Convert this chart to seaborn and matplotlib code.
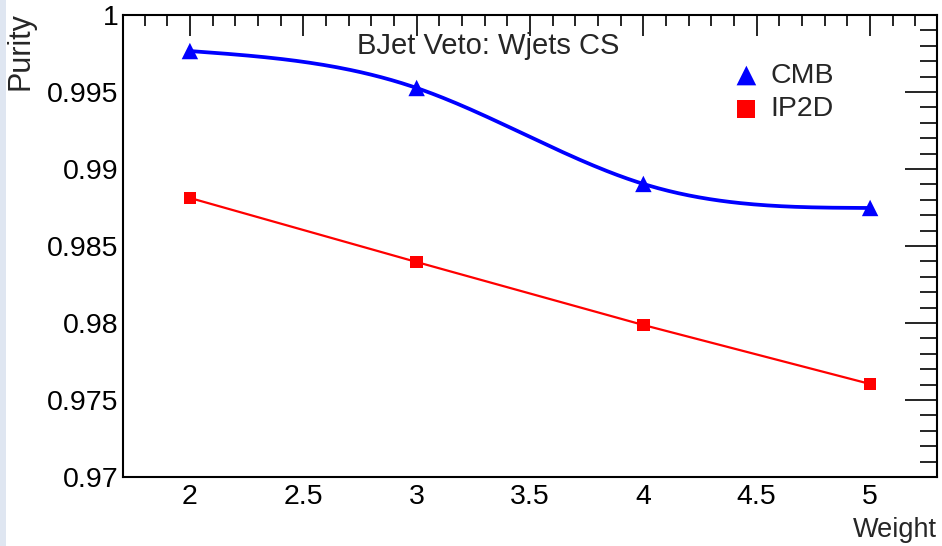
import numpy as np
import pandas as pd
import seaborn as sns
import matplotlib
matplotlib.use("Agg")
import matplotlib.pyplot as plt
from matplotlib.ticker import MultipleLocator
from matplotlib.patches import Rectangle

weights = [2, 3, 4, 5]
cmb = [0.99766, 0.99526, 0.98903, 0.98747]
ip2d = [0.98812, 0.98396, 0.97987, 0.97604]
xtick_vals = [2, 2.5, 3, 3.5, 4, 4.5, 5]
xtick_labels = ['2', '2.5', '3', '3.5', '4', '4.5', '5']
ytick_vals = [0.97, 0.975, 0.98, 0.985, 0.99, 0.995, 1.0]
ytick_labels = ['0.97', '0.975', '0.98', '0.985', '0.99', '0.995', '1']

sns.set_style("white")
plt.rcParams['font.family'] = ['Liberation Sans', 'DejaVu Sans']

W, H = 942, 546


def natural_spline(x, y, n=200):
    x = np.asarray(x, float); y = np.asarray(y, float)
    k = len(x)
    h = np.diff(x)
    A = np.zeros((k, k)); b = np.zeros(k)
    A[0, 0] = 1; A[-1, -1] = 1
    for i in range(1, k - 1):
        A[i, i - 1] = h[i - 1]; A[i, i] = 2 * (h[i - 1] + h[i]); A[i, i + 1] = h[i]
        b[i] = 3 * ((y[i + 1] - y[i]) / h[i] - (y[i] - y[i - 1]) / h[i - 1])
    c = np.linalg.solve(A, b)
    xs = np.linspace(x[0], x[-1], n)
    ys = np.empty_like(xs)
    for j, xv in enumerate(xs):
        i = min(np.searchsorted(x, xv, side='right') - 1, k - 2)
        dx = xv - x[i]
        bb = (y[i + 1] - y[i]) / h[i] - h[i] * (2 * c[i] + c[i + 1]) / 3
        d = (c[i + 1] - c[i]) / (3 * h[i])
        ys[j] = y[i] + bb * dx + c[i] * dx ** 2 + d * dx ** 3
    return xs, ys


fig = plt.figure(figsize=(W / 100, H / 100), dpi=100)
fig.patch.set_facecolor('white')
fig.add_artist(Rectangle((0, 0), 6 / W, 1, transform=fig.transFigure,
                         facecolor='#dfe6f1', edgecolor='none', zorder=0))
ax = fig.add_axes([123 / W, 1 - 477 / H, (937 - 123) / W, (477 - 15) / H])

sx, sy = natural_spline(weights, cmb)
df_s = pd.DataFrame({'w': sx, 'p': sy})
sns.lineplot(data=df_s, x='w', y='p', ax=ax, color='#0000ff', lw=2.7, sort=False)
sns.lineplot(x=weights, y=ip2d, ax=ax, color='#ff0000', lw=1.6)
sns.scatterplot(x=weights, y=cmb, ax=ax, marker='^', s=140, color='#0000ff',
                edgecolor='none', zorder=5, label='CMB')
sns.scatterplot(x=weights, y=ip2d, ax=ax, marker='s', s=80, color='#ff0000',
                edgecolor='none', zorder=5, label='IP2D')

ax.set_xlim(1.705, 5.295)
ax.set_ylim(0.97, 1.0)
ax.xaxis.set_minor_locator(MultipleLocator(0.1))
ax.yaxis.set_minor_locator(MultipleLocator(0.001))
ax.set_xticks(xtick_vals)
ax.set_xticklabels(xtick_labels)
ax.set_yticks(ytick_vals)
ax.set_yticklabels(ytick_labels)
ax.tick_params(axis='both', which='both', direction='in', top=True, right=True,
               colors='black', labelsize=20.5, width=1.2)
ax.tick_params(axis='y', which='major', length=23, pad=3)
ax.tick_params(axis='y', which='minor', length=12)
ax.tick_params(axis='x', which='major', length=15, pad=5)
ax.tick_params(axis='x', which='minor', length=8)
for s in ax.spines.values():
    s.set_color('black'); s.set_linewidth(1.5)

ax.set_xlabel('')
ax.set_ylabel('')
fig.text(937 / W, 1 - 537 / H, 'Weight', ha='right', va='baseline', fontsize=19.5)
fig.text(21 / W, 1 - 12 / H, 'Purity', ha='center', va='top', rotation=90, fontsize=22)
fig.text(488.5 / W, 1 - 46 / H, 'BJet Veto: Wjets CS', ha='center', va='center', fontsize=21)

leg = ax.legend(loc='upper left', bbox_to_anchor=(735 / W, 1 - 63 / H),
                bbox_transform=fig.transFigure, frameon=False, fontsize=20.5,
                handlelength=0.8, handletextpad=0.45, labelspacing=0.26, borderpad=0,
                borderaxespad=0)
hs = leg.legend_handles
hs[0].set_sizes([200])
hs[1].set_sizes([170])

fig.savefig('out.png', dpi=100, facecolor='white')
